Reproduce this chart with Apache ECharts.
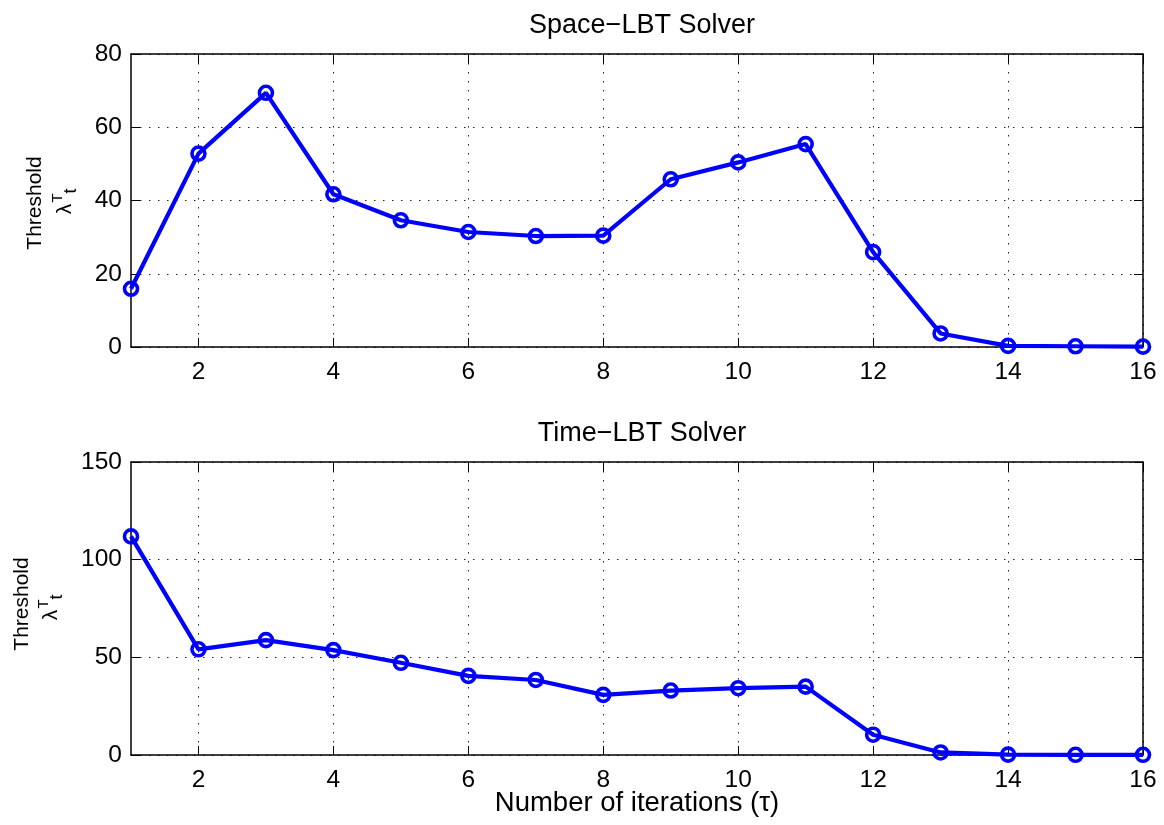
<!DOCTYPE html>
<html>
<head>
<meta charset="utf-8">
<script src="https://cdn.jsdelivr.net/npm/echarts@6/dist/echarts.min.js"></script>
<style>
  html, body { margin: 0; padding: 0; background: #fff; }
  #chart { width: 1164px; height: 825px; }
</style>
</head>
<body>
<div id="chart"></div>
<script>
// Iteration index and per-iteration thresholds for the two solvers
const iterations = [1, 2, 3, 4, 5, 6, 7, 8, 9, 10, 11, 12, 13, 14, 15, 16];
const spaceThreshold = [15.9, 52.8, 69.4, 41.7, 34.6, 31.4, 30.3, 30.4, 45.8, 50.4, 55.4, 25.9, 3.7, 0.3, 0.2, 0.1];
const timeThreshold = [111.9, 54.1, 58.8, 53.7, 47.2, 40.5, 38.4, 30.8, 33.0, 34.2, 35.0, 10.4, 1.3, 0.2, 0.1, 0.1];
const xTicks = [2, 4, 6, 8, 10, 12, 14, 16];
const titles = ['Space\u2212LBT Solver', 'Time\u2212LBT Solver'];
const xLabel = 'Number of iterations (\u03c4)';
const yLabel = 'Threshold';

const FONT = '"Liberation Sans", Arial, Helvetica, sans-serif';
const BLUE = '#0000ff';

const chart = echarts.init(document.getElementById('chart'), null, { renderer: 'canvas' });

const grids = [
  { left: 131, top: 54, width: 1012, height: 293 },
  { left: 131, top: 462, width: 1012, height: 293 }
];

const gridLine = { show: true, lineStyle: { color: '#222', width: 1, type: [1.5, 7.5] } };
const axisLineStyle = { show: true, onZero: false, lineStyle: { color: '#000', width: 1.5 } };

function xAxes(gi) {
  return [
    {
      type: 'value', gridIndex: gi, position: 'bottom', min: 1, max: 16,
      axisLine: axisLineStyle,
      axisTick: { show: true, inside: true, length: 9, customValues: xTicks, lineStyle: { color: '#000', width: 1 } },
      axisLabel: { customValues: xTicks, color: '#000', fontFamily: FONT, fontSize: 24.5, margin: 13 },
      splitLine: gridLine
    },
    {
      type: 'value', gridIndex: gi, position: 'top', min: 1, max: 16,
      axisLine: axisLineStyle,
      axisTick: { show: true, inside: true, length: 9, customValues: xTicks, lineStyle: { color: '#000', width: 1 } },
      axisLabel: { show: false },
      splitLine: { show: false }
    }
  ];
}

function yAxes(gi, max, interval) {
  return [
    {
      type: 'value', gridIndex: gi, position: 'left', min: 0, max: max, interval: interval,
      axisLine: axisLineStyle,
      axisTick: { show: true, inside: true, length: 9, lineStyle: { color: '#000', width: 1 } },
      axisLabel: { color: '#000', fontFamily: FONT, fontSize: 24.5, margin: 9 },
      splitLine: gridLine
    },
    {
      type: 'value', gridIndex: gi, position: 'right', min: 0, max: max, interval: interval,
      axisLine: axisLineStyle,
      axisTick: { show: true, inside: true, length: 9, lineStyle: { color: '#000', width: 1 } },
      axisLabel: { show: false },
      splitLine: { show: false }
    }
  ];
}

function lineSeries(values, xi, yi) {
  return {
    type: 'line',
    xAxisIndex: xi, yAxisIndex: yi,
    data: iterations.map((x, i) => [x, values[i]]),
    clip: false,
    symbol: 'circle',
    symbolSize: 13,
    lineStyle: { color: BLUE, width: 4.2 },
    itemStyle: { color: 'rgba(0,0,0,0)', borderColor: BLUE, borderWidth: 3.6 },
    emphasis: { disabled: true },
    animation: false,
    z: 5
  };
}

// Rotated y-axis label: "Threshold" above λ^T_t
function yLabelGraphics(cx, cy, lx, ly) {
  const txt = (x, y, s, size) => ({
    type: 'text', x: x, y: y, rotation: Math.PI / 2,
    style: { text: s, fill: '#000', font: size + 'px ' + FONT, textAlign: 'center', textVerticalAlign: 'middle' }
  });
  return [
    txt(cx, cy, yLabel, 21),
    txt(lx, ly, '\u03bb', 21),
    txt(lx - 7, ly - 11, 'T', 15),
    txt(lx + 6, ly - 18, 't', 18)
  ];
}

const option = {
  backgroundColor: '#fff',
  animation: false,
  title: [
    { text: titles[0], left: 637, top: 7, textAlign: 'center',
      textStyle: { color: '#000', fontFamily: FONT, fontSize: 27, fontWeight: 'normal' } },
    { text: titles[1], left: 637, top: 415, textAlign: 'center',
      textStyle: { color: '#000', fontFamily: FONT, fontSize: 27, fontWeight: 'normal' } }
  ],
  grid: grids,
  xAxis: [...xAxes(0), ...xAxes(1)],
  yAxis: [...yAxes(0, 80, 20), ...yAxes(1, 150, 50)],
  series: [
    lineSeries(spaceThreshold, 0, 0),
    lineSeries(timeThreshold, 2, 2)
  ],
  graphic: [
    ...yLabelGraphics(35, 203, 65, 209),
    ...yLabelGraphics(22, 604, 51, 615),
    {
      type: 'text', x: 637, y: 803,
      style: { text: xLabel, fill: '#000', font: '27.5px ' + FONT, textAlign: 'center', textVerticalAlign: 'middle' }
    }
  ]
};

chart.setOption(option);
</script>
</body>
</html>
